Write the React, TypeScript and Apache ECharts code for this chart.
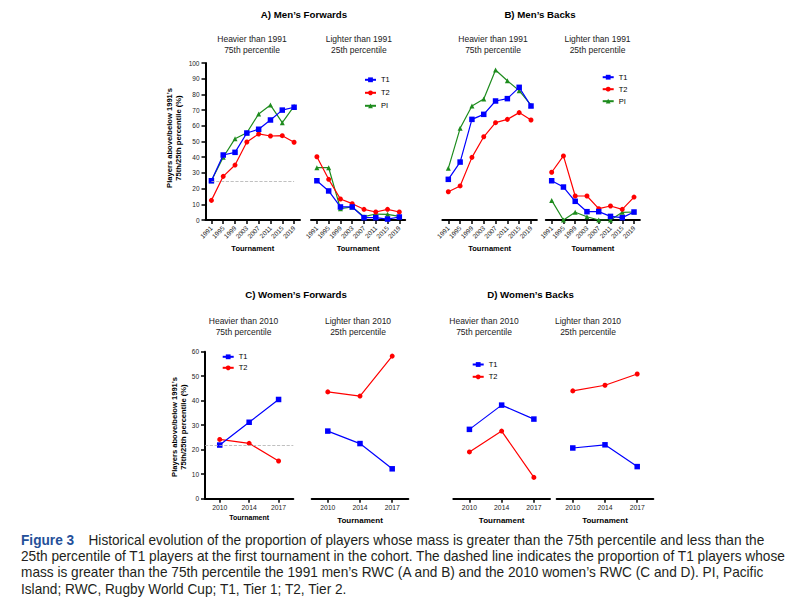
import React, { useEffect, useRef } from 'react';
import * as echarts from 'echarts';

// Tournament categories
const menYears = ['1991', '1995', '1999', '2003', '2007', '2011', '2015', '2019'];
const womenYears = ['2010', '2014', '2017'];

// A) Men's forwards
const mfHeavierT1 = [25, 41.4, 43.1, 55.4, 57.8, 63.7, 70, 71.8];
const mfHeavierT2 = [12.5, 27.8, 35, 49.7, 54.8, 53.5, 53.7, 49.5];
const mfHeavierPI = [25, 40, 51.8, 55.6, 67.5, 73.2, 62, 72.5];
const mfLighterT1 = [25, 18.5, 8.3, 8.3, 1.5, 1.5, 0.6, 1.9];
const mfLighterT2 = [40.3, 25.9, 13.4, 10.4, 6.8, 5.1, 6.8, 5.1];
const mfLighterPI = [33.3, 33.3, 7.2, 8.3, 2.1, 3.8, 3.6, 2.3];

// B) Men's backs
const mbHeavierT1 = [25.9, 36.9, 64.1, 67.3, 75.8, 77.3, 84.5, 72.6];
const mbHeavierT2 = [18, 21.7, 39.9, 53, 62, 64.1, 68.4, 63.7];
const mbHeavierPI = [32.9, 58.4, 72.6, 77.1, 95.5, 88.7, 82.4, 73.1];
const mbLighterT1 = [25, 21, 11.9, 5.3, 5.3, 2.3, 1.5, 5.1];
const mbLighterT2 = [30.4, 40.8, 15.3, 15.3, 7.2, 8.9, 6.8, 14.6];
const mbLighterPI = [12.5, 0, 4.9, 2.1, 0, 0, 4.9, 5.1];

// C) Women's forwards
const wfHeavierT1 = [21.9, 31.2, 40.5];
const wfHeavierT2 = [24.2, 22.6, 15.4];
const wfLighterT1 = [27.6, 22.5, 12.2];
const wfLighterT2 = [43.6, 41.9, 58.2];

// D) Women's backs
const wbHeavierT1 = [28.3, 38.2, 32.5];
const wbHeavierT2 = [19.1, 27.6, 8.7];
const wbLighterT1 = [20.7, 22.0, 13.1];
const wbLighterT2 = [44, 46.3, 50.9];

// T1 proportion above the first tournament's 75th percentile (dashed reference)
const menReference = 24.6;
const womenReference = 22;

const captionLines = [
  'Historical evolution of the proportion of players whose mass is greater than the 75th percentile and less than the',
  '25th percentile of T1 players at the first tournament in the cohort. The dashed line indicates the proportion of T1 players whose',
  'mass is greater than the 75th percentile the 1991 men\u2019s RWC (A and B) and the 2010 women\u2019s RWC (C and D). PI, Pacific',
  'Island; RWC, Rugby World Cup; T1, Tier 1; T2, Tier 2.',
];

const FONT = '"Liberation Sans", Arial, Helvetica, sans-serif';
const CAPTION_SIZE = 14;
const COLORS = { T1: '#0000ff', T2: '#ff0000', PI: '#1e8c1e' };
const SYMBOLS = { T1: 'rect', T2: 'circle', PI: 'triangle' };
const SIZES = { T1: 5.5, T2: 5, PI: 5 };

type Key = 'T1' | 'T2' | 'PI';

function line(name: Key, data: number[], idx: number, extra: any = {}) {
  return {
    type: 'line',
    name,
    data,
    xAxisIndex: idx,
    yAxisIndex: idx,
    symbol: SYMBOLS[name],
    symbolSize: SIZES[name],
    showSymbol: true,
    lineStyle: { color: COLORS[name], width: 1.2 },
    itemStyle: { color: COLORS[name] },
    z: name === 'T1' ? 4 : name === 'T2' ? 3 : 2,
    ...extra,
  };
}

function xAxis(idx: number, data: string[], men: boolean, gap: number, nameSize: number) {
  return {
    type: 'category',
    gridIndex: idx,
    data,
    boundaryGap: true,
    axisLine: { show: true, lineStyle: { color: '#000', width: 2 } },
    axisTick: { show: true, alignWithLabel: true, length: 4, lineStyle: { color: '#000', width: 1.5 } },
    axisLabel: {
      interval: 0,
      rotate: men ? 45 : 0,
      fontSize: men ? 6.5 : 6.8,
      color: '#222',
      margin: men ? 7 : 5,
      fontFamily: FONT,
    },
    name: 'Tournament',
    nameLocation: 'middle',
    nameGap: gap,
    nameTextStyle: { fontWeight: 'bold', fontSize: nameSize, color: '#000', fontFamily: FONT },
    splitLine: { show: false },
  };
}

function yAxis(idx: number, max: number, visible: boolean) {
  return {
    type: 'value',
    gridIndex: idx,
    min: 0,
    max,
    interval: 10,
    show: visible,
    axisLine: { show: true, lineStyle: { color: '#000', width: 2 } },
    axisTick: { show: true, length: 4, lineStyle: { color: '#000', width: 1.5 } },
    axisLabel: { fontSize: 6.5, color: '#222', margin: 6, fontFamily: FONT },
    splitLine: { show: false },
  };
}

function text(x: number, y: number, t: string, size: number, weight: string, extra: any = {}) {
  return {
    type: 'text',
    x,
    y,
    silent: true,
    ...extra,
    style: {
      text: t,
      fontSize: size,
      fontWeight: weight,
      fontFamily: FONT,
      fill: '#000',
      textAlign: 'center',
      textVerticalAlign: 'middle',
      ...(extra.style || {}),
    },
  };
}

function legend(left: number, top: number, gap: number, data: string[]) {
  return {
    show: true,
    orient: 'vertical',
    left,
    top,
    padding: 0,
    itemWidth: 11,
    itemHeight: 6,
    itemGap: gap,
    selectedMode: false,
    data,
    textStyle: { fontSize: 7.5, color: '#000', fontFamily: FONT, padding: [0, 0, 0, 0] },
  };
}

// Horizontal compression that makes the caption's longest line fit its column
function measureScale(): number {
  const ctx = document.createElement('canvas').getContext('2d');
  if (!ctx) return 0.85;
  ctx.font = `${CAPTION_SIZE}px ${FONT}`;
  const w = ctx.measureText(captionLines[1]).width;
  return w > 0 ? 765 / w : 0.85;
}

export default function App() {
  const ref = useRef<HTMLDivElement>(null);

  useEffect(() => {
    document.body.style.margin = '0';
    if (!ref.current) return;
    const chart = echarts.init(ref.current, undefined, { renderer: 'svg' });
    const s = measureScale();

    const grids = [
      { left: 205.5, top: 63, width: 94.5, height: 157 },
      { left: 311, top: 63, width: 94.2, height: 157 },
      { left: 442.4, top: 63, width: 94.5, height: 157 },
      { left: 545.8, top: 63, width: 94.1, height: 157 },
      { left: 205, top: 351.7, width: 88.3, height: 147 },
      { left: 311.7, top: 351.7, width: 96.6, height: 147 },
      { left: 453.3, top: 351.7, width: 96.7, height: 147 },
      { left: 556.7, top: 351.7, width: 96.6, height: 147 },
    ];

    const dashed = {
      silent: true,
      symbol: 'none',
      label: { show: false },
      lineStyle: { type: 'dashed', color: '#b0b0b0', width: 0.8 },
    };

    const option: any = {
      animation: false,
      backgroundColor: '#fff',
      textStyle: { fontFamily: FONT },
      grid: grids,
      xAxis: [
        xAxis(0, menYears, true, 24.5, 7.5),
        xAxis(1, menYears, true, 24.5, 7.5),
        xAxis(2, menYears, true, 24.5, 7.5),
        xAxis(3, menYears, true, 24.5, 7.5),
        xAxis(4, womenYears, false, 15.5, 7),
        xAxis(5, womenYears, false, 17.5, 8),
        xAxis(6, womenYears, false, 17.5, 8),
        xAxis(7, womenYears, false, 17.5, 8),
      ],
      yAxis: [
        yAxis(0, 100, true),
        yAxis(1, 100, false),
        yAxis(2, 100, false),
        yAxis(3, 100, false),
        yAxis(4, 60, true),
        yAxis(5, 60, false),
        yAxis(6, 60, false),
        yAxis(7, 60, false),
      ],
      legend: [
        legend(364, 75.8, 5, ['T1', 'T2', 'PI']),
        legend(601.7, 73.2, 4, ['T1', 'T2', 'PI']),
        legend(221.7, 352.8, 3, ['T1', 'T2']),
        legend(471.7, 360.5, 4.3, ['T1', 'T2']),
      ],
      series: [
        line('PI', mfHeavierPI, 0),
        line('T2', mfHeavierT2, 0),
        line('T1', mfHeavierT1, 0, {
          markLine: {
            ...dashed,
            data: [[{ coord: [menYears[0], menReference] }, { coord: [menYears[menYears.length - 1], menReference] }]],
          },
        }),
        line('PI', mfLighterPI, 1),
        line('T2', mfLighterT2, 1),
        line('T1', mfLighterT1, 1),
        line('PI', mbHeavierPI, 2),
        line('T2', mbHeavierT2, 2),
        line('T1', mbHeavierT1, 2),
        line('PI', mbLighterPI, 3),
        line('T2', mbLighterT2, 3),
        line('T1', mbLighterT1, 3),
        line('T2', wfHeavierT2, 4, {
          markLine: { ...dashed, data: [{ yAxis: womenReference }] },
        }),
        line('T1', wfHeavierT1, 4),
        line('T2', wfLighterT2, 5),
        line('T1', wfLighterT1, 5),
        line('T2', wbHeavierT2, 6),
        line('T1', wbHeavierT1, 6),
        line('T2', wbLighterT2, 7),
        line('T1', wbLighterT1, 7),
      ],
      graphic: [
        text(304, 14, 'A) Men\u2019s Forwards', 9.7, 'bold'),
        text(540, 14, 'B) Men\u2019s Backs', 9.7, 'bold'),
        text(296, 294, 'C) Women\u2019s Forwards', 9.7, 'bold'),
        text(530.5, 294.3, 'D) Women\u2019s Backs', 9.7, 'bold'),

        text(252, 44.7, 'Heavier than 1991\n75th percentile', 8.5, 'normal', { style: { lineHeight: 10.7, fill: '#222' } }),
        text(358.8, 44.7, 'Lighter than 1991\n25th percentile', 8.5, 'normal', { style: { lineHeight: 10.7, fill: '#222' } }),
        text(493, 44.7, 'Heavier than 1991\n75th percentile', 8.5, 'normal', { style: { lineHeight: 10.7, fill: '#222' } }),
        text(597.5, 44.7, 'Lighter than 1991\n25th percentile', 8.5, 'normal', { style: { lineHeight: 10.7, fill: '#222' } }),
        text(243.5, 326.2, 'Heavier than 2010\n75th percentile', 8.5, 'normal', { style: { lineHeight: 11, fill: '#222' } }),
        text(358, 326.2, 'Lighter than 2010\n25th percentile', 8.5, 'normal', { style: { lineHeight: 11, fill: '#222' } }),
        text(484, 326.2, 'Heavier than 2010\n75th percentile', 8.5, 'normal', { style: { lineHeight: 11, fill: '#222' } }),
        text(588, 326.2, 'Lighter than 2010\n25th percentile', 8.5, 'normal', { style: { lineHeight: 11, fill: '#222' } }),

        text(174, 138, 'Players above/below 1991\u2019s\n75th/25th percentile (%)', 7.6, 'bold', {
          rotation: Math.PI / 2,
          style: { lineHeight: 8.5 },
        }),
        text(179, 427, 'Players above/below 1991\u2019s\n75th/25th percentile (%)', 7.6, 'bold', {
          rotation: Math.PI / 2,
          style: { lineHeight: 8.5 },
        }),

        text(21, 540, 'Figure 3', CAPTION_SIZE, 'bold', {
          scaleX: s,
          style: { textAlign: 'left', fill: '#24509a' },
        }),
        ...captionLines.map((t, i) =>
          text(i === 0 ? 88.5 : 21, 540 + i * 16.2, t, CAPTION_SIZE, 'normal', {
            scaleX: s,
            style: { textAlign: 'left', fill: '#231f20' },
          })
        ),
      ],
    };

    chart.setOption(option);
    return () => chart.dispose();
  }, []);

  return <div ref={ref} style={{ width: 808, height: 611 }} />;
}
